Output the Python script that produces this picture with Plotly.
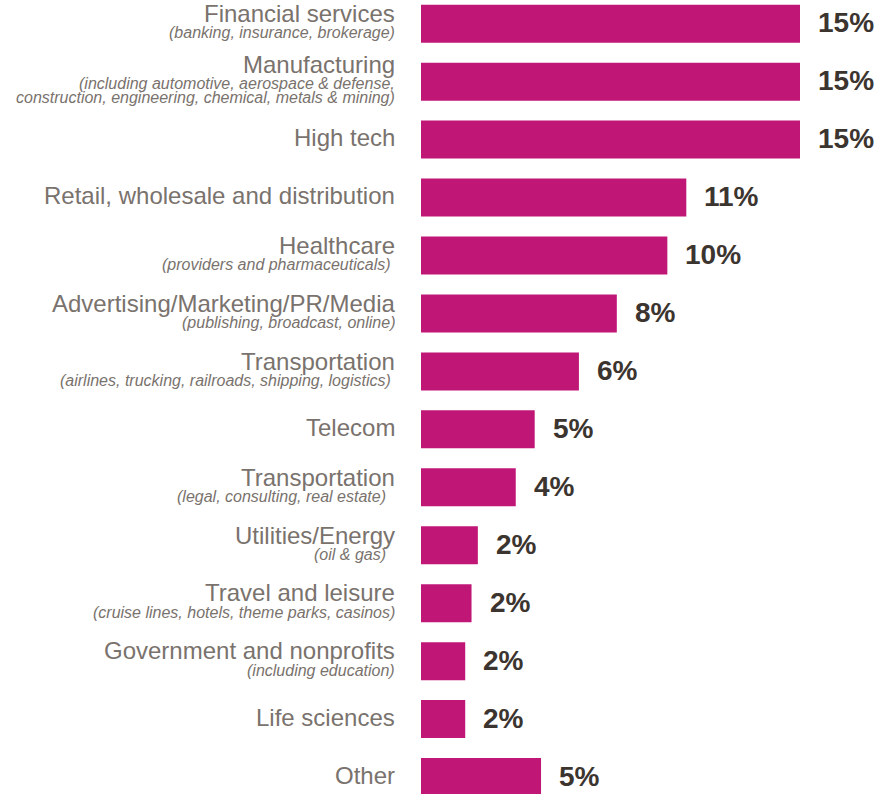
import plotly.graph_objects as go

# ---- data ----
categories = [
    "Financial services",
    "Manufacturing",
    "High tech",
    "Retail, wholesale and distribution",
    "Healthcare",
    "Advertising/Marketing/PR/Media",
    "Transportation",
    "Telecom",
    "Transportation",
    "Utilities/Energy",
    "Travel and leisure",
    "Government and nonprofits",
    "Life sciences",
    "Other",
]
sublabels = [
    ["(banking, insurance, brokerage)"],
    ["(including automotive, aerospace & defense,",
     "construction, engineering, chemical, metals & mining)"],
    [],
    [],
    ["(providers and pharmaceuticals)\u00a0"],
    ["(publishing, broadcast, online)"],
    ["(airlines, trucking, railroads, shipping, logistics)\u00a0"],
    [],
    ["(legal, consulting, real estate)\u00a0\u00a0"],
    ["(oil & gas)\u00a0\u00a0"],
    ["(cruise lines, hotels, theme parks, casinos)"],
    ["(including education)"],
    [],
    [],
]
values = [15, 15, 15, 10.5, 9.75, 7.75, 6.25, 4.5, 3.75, 2.25, 2.0, 1.75, 1.75, 4.75]
value_labels = ["15%", "15%", "15%", "11%", "10%", "8%", "6%", "5%", "4%",
                "2%", "2%", "2%", "2%", "5%"]

# ---- style ----
BAR = "#C01777"
LABEL = "#79726D"
VALUE = "#3C342F"
FONT = "Liberation Sans, Arial, sans-serif"
W, H = 893, 794
LEFT = 421
PITCH = 57.95
FIRST_CENTER = 23.7
BAR_PX = 38
FULL_PX = 379  # px length of the largest bar

n = len(categories)
pos = list(range(n))
vmax = max(values)
xmax = vmax * (W - LEFT) / FULL_PX
top = -FIRST_CENTER / PITCH
span = H / PITCH

fig = go.Figure(go.Bar(
    x=values, y=pos, orientation="h",
    marker=dict(color=BAR, line=dict(width=0)),
    width=BAR_PX / PITCH,
    hoverinfo="skip",
))

ann = []
MAIN_SUB = 19.5
SUB_SUB = 14.0
for i, (cat, subs, v, vl) in enumerate(zip(categories, sublabels, values, value_labels)):
    k = len(subs)
    if k == 0:
        offs_main = -2.0
    else:
        total = MAIN_SUB + SUB_SUB * (k - 1)
        offs_main = -total / 2 - 0.5
    ann.append(dict(
        x=0, xref="paper", y=i, yref="y", xanchor="right", yanchor="middle",
        xshift=-24.5, yshift=-offs_main, text=cat, showarrow=False,
        font=dict(family=FONT, size=24, color=LABEL),
    ))
    for j, s in enumerate(subs):
        o = offs_main + MAIN_SUB + SUB_SUB * j
        ann.append(dict(
            x=0, xref="paper", y=i, yref="y", xanchor="right", yanchor="middle",
            xshift=-24.5, yshift=-o, text="<i>" + s + "</i>", showarrow=False,
            font=dict(family=FONT, size=16, color=LABEL),
        ))
    ann.append(dict(
        x=v, xref="x", y=i, yref="y", xanchor="left", yanchor="middle",
        xshift=16, yshift=1, text="<b>" + vl + "</b>", showarrow=False,
        font=dict(family=FONT, size=28, color=VALUE),
    ))

fig.update_layout(
    width=W, height=H,
    margin=dict(l=LEFT, r=0, t=0, b=0, pad=0),
    paper_bgcolor="white", plot_bgcolor="white",
    showlegend=False,
    annotations=ann,
    xaxis=dict(range=[0, xmax], visible=False, fixedrange=True),
    yaxis=dict(range=[top + span, top], visible=False, fixedrange=True),
)

fig.write_html(
    "out.html",
    config={"displayModeBar": False},
    post_script="document.body.style.margin='0';document.body.style.overflow='hidden';",
)
